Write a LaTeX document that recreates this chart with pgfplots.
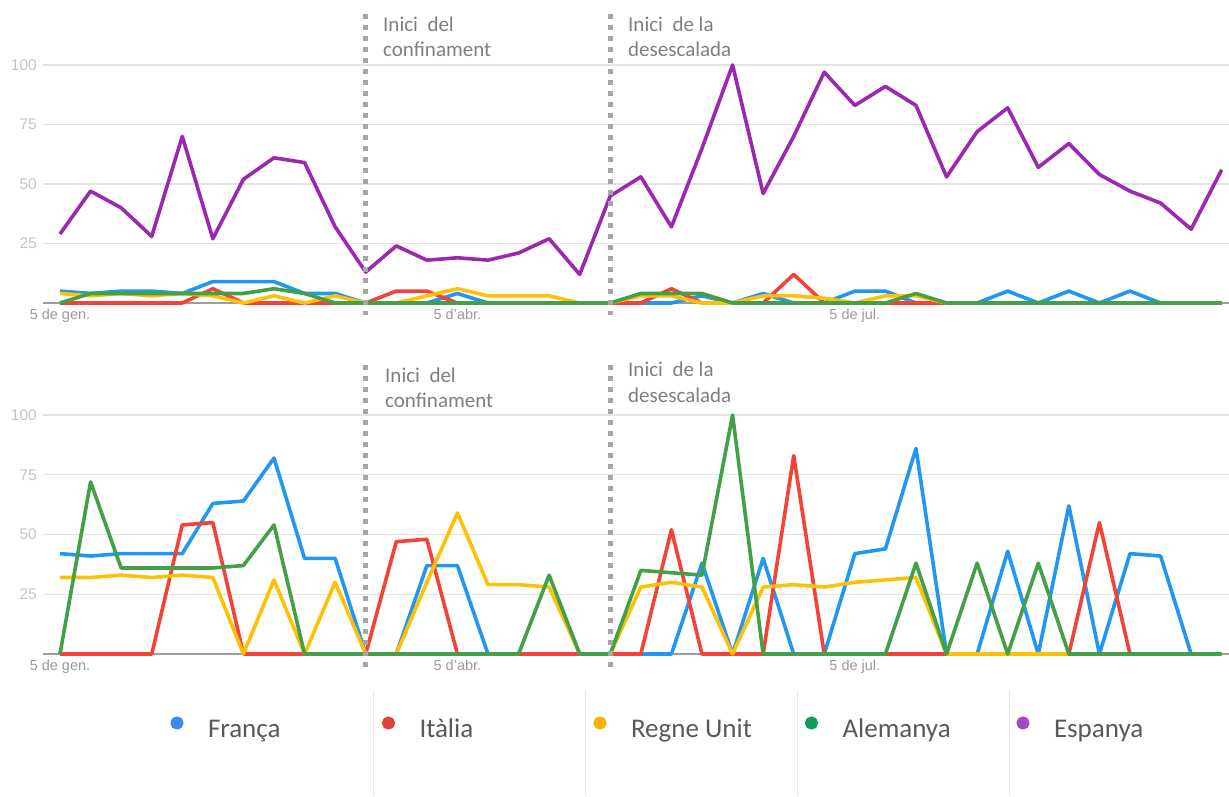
\documentclass[border=0pt]{standalone}
\usepackage{fontspec}
\setmainfont{Carlito}
\newfontfamily\tickfont{Liberation Sans}
\usepackage{pgfplots}
\usepackage{pgfplotstable}
\pgfplotsset{compat=1.18}

\definecolor{cfr}{HTML}{2196F3}
\definecolor{cit}{HTML}{F44336}
\definecolor{cuk}{HTML}{FFC107}
\definecolor{cde}{HTML}{43A047}
\definecolor{ces}{HTML}{9C27B0}
\definecolor{lfr}{HTML}{4285F4}
\definecolor{lit}{HTML}{DB4437}
\definecolor{luk}{HTML}{F4B400}
\definecolor{lde}{HTML}{0F9D58}
\definecolor{les}{HTML}{AB47BC}
\definecolor{gridc}{HTML}{E3E3E3}
\definecolor{basec}{HTML}{9E9E9E}
\definecolor{ylab}{HTML}{C4C4C4}
\definecolor{xlab}{HTML}{9A9A9A}
\definecolor{vlinec}{HTML}{A6A6A6}
\definecolor{annot}{HTML}{7F7F7F}
\definecolor{legtext}{HTML}{595959}
\definecolor{sepc}{HTML}{E6E6E6}

\pgfplotstableread{
x fr it uk de es
0 5 0 4 0 29
1 4 0 3 4 47
2 5 0 4 4 40
3 5 0 3 4 28
4 4 0 4 4 70
5 9 6 3 4 27
6 9 0 0 4 52
7 9 0 3 6 61
8 4 0 0 4 59
9 4 0 3 0 32
10 0 0 0 0 13
11 0 5 0 0 24
12 0 5 3 0 18
13 4 0 6 0 19
14 0 0 3 0 18
15 0 0 3 0 21
16 0 0 3 0 27
17 0 0 0 0 12
18 0 0 0 0 45
19 0 0 3 4 53
20 0 6 3 4 32
21 3 0 0 4 65
22 0 0 0 0 100
23 4 0 3 0 46
24 0 12 3 0 70
25 0 0 2 0 97
26 5 0 0 0 83
27 5 0 3 0 91
28 0 0 3 4 83
29 0 0 0 0 53
30 0 0 0 0 72
31 5 0 0 0 82
32 0 0 0 0 57
33 5 0 0 0 67
34 0 0 0 0 54
35 5 0 0 0 47
36 0 0 0 0 42
37 0 0 0 0 31
38 0 0 0 0 56
}\topdata

\pgfplotstableread{
x fr it uk de
0 42 0 32 0
1 41 0 32 72
2 42 0 33 36
3 42 0 32 36
4 42 54 33 36
5 63 55 32 36
6 64 0 0 37
7 82 0 31 54
8 40 0 0 0
9 40 0 30 0
10 0 0 0 0
11 0 47 0 0
12 37 48 30 0
13 37 0 59 0
14 0 0 29 0
15 0 0 29 0
16 0 0 28 33
17 0 0 0 0
18 0 0 0 0
19 0 0 28 35
20 0 52 30 34
21 38 0 28 33
22 0 0 0 100
23 40 0 28 0
24 0 83 29 0
25 0 0 28 0
26 42 0 30 0
27 44 0 31 0
28 86 0 32 38
29 0 0 0 0
30 0 0 0 38
31 43 0 0 0
32 0 0 0 38
33 62 0 0 0
34 0 55 0 0
35 42 0 0 0
36 41 0 0 0
37 0 0 0 0
38 0 0 0 0
}\botdata

\tikzset{vl/.style={draw=vlinec, line width=5pt, dash pattern=on 5pt off 6pt}}

\pgfplotsset{
  panel/.style={
    anchor=south west, scale only axis, width=1186pt,
    xmin=-0.556, xmax=38.24, ymin=0, ymax=100,
    axis line style={draw=none},
    tick style={draw=none},
    major tick length=0pt,
    ytick={25,50,75,100}, yticklabels={25,50,75,100},
    xtick={0,13,26}, xticklabels={5 de gen.,5 d’abr.,5 de jul.},
    ymajorgrids, grid style={draw=gridc, line width=1.3pt},
    yticklabel style={font=\tickfont\fontsize{15.5}{16}\selectfont, text=ylab, inner sep=0pt, xshift=-6pt},
    xticklabel style={font=\tickfont\fontsize{14.5}{16}\selectfont, text=xlab, inner sep=0pt, yshift=-6pt},
    clip=false,
    every axis plot/.append style={line width=3.6pt, line join=round, mark=none},
  },
}

\begin{document}
\begin{tikzpicture}
\useasboundingbox (0pt,0pt) rectangle (1229pt,796pt);

% ---------- top panel ----------
\begin{axis}[panel, at={(43pt,493pt)}, height=238pt]
\draw[basec, line width=1.3pt] (axis cs:-0.556,0) -- (axis cs:38.24,0);
\addplot[cfr] table[x=x,y=fr]{\topdata};
\addplot[cit] table[x=x,y=it]{\topdata};
\addplot[cuk] table[x=x,y=uk]{\topdata};
\addplot[cde] table[x=x,y=de]{\topdata};
\addplot[ces] table[x=x,y=es]{\topdata};
\draw[vl] (axis cs:10,121.4) -- (axis cs:10,-5);
\draw[vl] (axis cs:18,121.4) -- (axis cs:18,-5);
\end{axis}

% ---------- bottom panel ----------
\begin{axis}[panel, at={(43pt,142pt)}, height=239pt,
  legend style={at={(0.0995,-0.2469)}, anchor=north west, draw=none, fill=none,
    inner sep=0pt, outer sep=0pt, legend columns=5,
    cells={anchor=base}, nodes={inner sep=0pt},
    /tikz/every even column/.style={column sep=0pt},
    font=\fontsize{27}{30}\selectfont, text=legtext},
  legend image code/.code={\path[draw=none,fill=none] (-16pt,-10pt) rectangle (31pt,24pt); \fill (0pt,14pt) circle (4.8pt);},
]
\draw[basec, line width=1.3pt] (axis cs:-0.556,0) -- (axis cs:38.24,0);
\addplot[cfr, forget plot] table[x=x,y=fr]{\botdata};
\addplot[cit, forget plot] table[x=x,y=it]{\botdata};
\addplot[cuk, forget plot] table[x=x,y=uk]{\botdata};
\addplot[cde, forget plot] table[x=x,y=de]{\botdata};
\draw[vl] (axis cs:10,120.9) -- (axis cs:10,-5.9);
\draw[vl] (axis cs:18,120.9) -- (axis cs:18,-5.9);
\addlegendimage{lfr}
\addlegendentry{\makebox[164.5pt][l]{França}}
\addlegendimage{lit}
\addlegendentry{\makebox[164.5pt][l]{Itàlia}}
\addlegendimage{luk}
\addlegendentry{\makebox[164.5pt][l]{Regne Unit}}
\addlegendimage{lde}
\addlegendentry{\makebox[164.5pt][l]{Alemanya}}
\addlegendimage{les}
\addlegendentry{\makebox[164.5pt][l]{Espanya}}
\end{axis}

% ---------- annotations ----------
\begin{scope}[every node/.style={anchor=base west, inner sep=0pt, font=\fontsize{21}{25}\selectfont, text=annot}]
\node at (383pt,764pt) {Inici\ \ del};
\node at (383pt,739pt) {confinament};
\node at (628pt,764pt) {Inici\ \ de la};
\node at (628pt,739pt) {desescalada};
\node at (385pt,413pt) {Inici\ \ del};
\node at (385pt,388pt) {confinament};
\node at (628pt,419pt) {Inici\ \ de la};
\node at (628pt,393pt) {desescalada};
\end{scope}

% ---------- legend separators ----------
\foreach \sx in {373,585,797,1009}{
  \draw[sepc, line width=0.8pt] (\sx pt,0pt) -- (\sx pt,106pt);
}
\end{tikzpicture}
\end{document}
